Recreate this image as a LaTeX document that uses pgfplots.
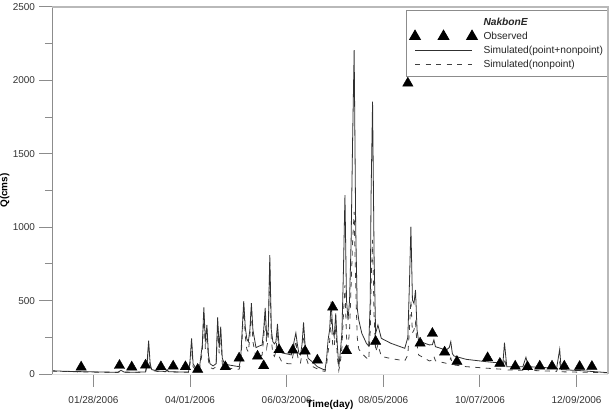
\documentclass[border=0pt]{standalone}
\usepackage{pgfplots}
\pgfplotsset{compat=1.18}
\usepackage{fontspec}
\setmainfont{Liberation Sans}
\definecolor{axgray}{HTML}{8C8C8C}
\definecolor{simline}{HTML}{303030}
\definecolor{nplline}{HTML}{404040}
\pgfplotsset{
  obslegend/.style={legend image code/.code={\path (-6bp,0bp) (66bp,0bp);\draw[##1] plot coordinates {(0bp,0bp)(28.5bp,0bp)(57bp,0bp)};}},
  linelegend/.style={legend image code/.code={\path (-6bp,0bp) (66bp,0bp);\draw[##1] (0bp,0bp) -- (57bp,0bp);}},
}
\begin{document}
\begin{tikzpicture}
\begin{axis}[
  at={(0,0)}, anchor=south west,
  scale only axis, width=556bp, height=367bp,
  xmin=1, xmax=363.5, ymin=0, ymax=2500,
  axis line style={draw=none},
  tick pos=left, tick align=outside,
  xtick={28,91,154,217,280,343},
  xticklabels={01/28/2006,04/01/2006,06/03/2006,08/05/2006,10/07/2006,12/09/2006},
  ytick={0,500,1000,1500,2000,2500},
  minor ytick={250,750,1250,1750,2250},
  major tick length=12.5bp, minor tick length=7bp,
  every tick/.style={axgray, line width=1bp},
  /pgf/number format/assume math mode=true,
  /pgf/number format/1000 sep={},
  every tick label/.append style={font=\fontsize{10}{12}\selectfont, text=black!80},
  xticklabel shift=6bp, yticklabel shift=1bp,
  xlabel={Time(day)}, ylabel={Q(cms)},
  xlabel style={at={(axis description cs:0.5,-0.0981)}, anchor=south, inner sep=0pt, font=\bfseries\fontsize{10}{12}\selectfont},
  ylabel style={at={(axis description cs:-0.0935,0.5)}, anchor=north, inner sep=0pt, font=\bfseries\fontsize{10}{12}\selectfont},
  legend style={at={(axis description cs:0.9982,0.9905)}, anchor=north east,
    draw=axgray, line width=1bp, fill=white, outer sep=0pt,
    font=\fontsize{10.25}{12}\selectfont, text=black!85,
    inner xsep=2bp, inner ysep=5.5bp, row sep=1bp},
  legend cell align=left,
]
\addlegendimage{empty legend}
\addlegendentry{\textbf{\textit{NakbonE}}}
\addlegendimage{obslegend, only marks, mark=triangle*, mark size=6pt, black}
\addlegendentry{Observed}
\addlegendimage{linelegend, simline, line width=0.8bp}
\addlegendentry{Simulated(point+nonpoint)}
\addlegendimage{linelegend, nplline, line width=0.8bp, dash pattern=on 5bp off 5.5bp}
\addlegendentry{Simulated(nonpoint)}

% Simulated (nonpoint) - dashed
\addplot[forget plot, nplline, line width=0.8bp, dash pattern=on 5bp off 5.5bp] coordinates {
(1,20) (15,15) (35,12) (44,11) (46,20) (48,12) (62,12) (63,60) (64,190) (65,50) (66,25) (70,17)
(75,15) (76,25) (77,14) (90,12) (91,70) (92,200) (93,50) (95,25) (97,22) (99,150) (100,400) (101,170)
(102,300) (103,90) (104,45) (106,35) (108,50) (109,340) (110,140) (111,280) (112,70) (113,50) (116,40)
(120,35) (123,32) (124,70) (125,250) (126,460) (127,260) (128,170) (129,150) (130,250) (131,450) (132,220)
(134,110) (136,115) (138,130) (139,240) (140,400) (141,180) (142,240) (143,760) (144,230) (145,140)
(146,120) (147,150) (148,290) (149,120) (151,80) (155,70) (157,70) (158,120) (160,230) (161,130)
(162,80) (163,75) (164,140) (165,300) (166,130) (168,70) (171,50) (174,35) (177,22) (179,18) (180,60)
(181,150) (182,220) (183,400) (184,200) (185,180) (186,330) (187,120) (188,25) (189,80) (190,180)
(191,400) (192,606) (193,250) (194,180) (195,300) (196,600) (197,900) (198,1105) (199,600) (200,250)
(201,170) (203,140) (206,110) (207.5,95) (208.5,300) (209,600) (210,913) (211,400) (212,150)
(213.5,200) (215.7,120) (222,105) (231,90) (233,130) (234,300) (235,504) (236,280) (237,300) (238,350)
(239,200) (240,130) (247,89) (249,95) (250,120) (251,90) (258,73) (260,85) (261,110) (262,68) (263,62)
(271,50) (284,40) (295,32) (296,110) (297.5,28) (308,25) (310,55) (311.5,25) (330,18) (332,80) (333,15)
(347,12) (363.5,8)
};
% Simulated (point+nonpoint) - solid
\addplot[forget plot, simline, line width=0.8bp] coordinates {
(1,22) (8,19) (15,17) (25,15) (35,13) (44,12) (46,25) (48,13) (55,12) (62,14) (63,80) (64,227) (65,70)
(66,30) (70,20) (75,17) (76,30) (77,16) (85,13) (90,13) (91,90) (92,243) (93,70) (95,35) (97,30) (99,200)
(100,454) (101,220) (102,334) (103,130) (104,70) (106,55) (108,70) (109,386) (110,180) (111,322)
(112,110) (113,80) (116,62) (120,55) (123,50) (124,100) (125,300) (126,497) (127,320) (128,240)
(129,220) (130,300) (131,482) (132,300) (134,180) (136,190) (138,198) (139,300) (140,450) (141,250)
(142,300) (143,810) (144,300) (145,220) (146,205) (147,220) (148,341) (149,200) (151,143) (155,135)
(157,130) (158,180) (160,280) (161,200) (162,140) (163,130) (164,200) (165,352) (166,200) (168,107)
(171,80) (174,50) (177,35) (179,27) (180,100) (181,232) (182,300) (183,493) (184,300) (185,254)
(186,413) (187,200) (188,50) (189,150) (190,277) (191,700) (192,1219) (193,504) (194,368) (195,500)
(196,900) (197,1600) (198,2207) (199,1000) (200,450) (201,368) (203,277) (206,209) (207.5,190)
(208.5,500) (209,1200) (210,1855) (211,800) (212,277) (213.5,334) (215.7,243) (222,209) (231,175)
(233,250) (234,600) (235,1003) (236,504) (237,480) (238,572) (239,300) (240,225) (247,198) (249,200)
(250,232) (251,186) (258,163) (260,180) (261,220) (262,140) (263,123) (271,100) (284,84) (295,73)
(296,213) (297.5,50) (308,50) (310,114) (311.5,50) (330,39) (332,168) (333,30) (347,22) (363.5,9)
};
% Observed
\addplot[forget plot, only marks, mark=triangle*, mark size=6pt, black] coordinates {
(20,47) (45,58) (53,47) (62,60) (72,49) (80,53) (88,49) (96,31) (114,49) (123,108) (135,121) (139,56)
(149,165) (158,162) (166,156) (174,94) (184,455) (193,158) (212,222) (233,1981) (241,210) (249,276)
(257,149) (265,85) (285,110) (293,72) (303,53) (311,49) (319,53) (327,53) (335,53) (345,51) (353,51)
};
\end{axis}
\draw[axgray, line width=1bp] (0,0) -- (0,367bp);
\draw[gray!55, line width=1.2bp] (0,367bp) -- (556bp,367bp) -- (556bp,0);
\draw[gray!25, line width=0.6bp] (0,0) -- (556bp,0);
\pgfresetboundingbox
\useasboundingbox (-52bp,-36bp) rectangle (563bp,374bp);
\end{tikzpicture}
\end{document}
